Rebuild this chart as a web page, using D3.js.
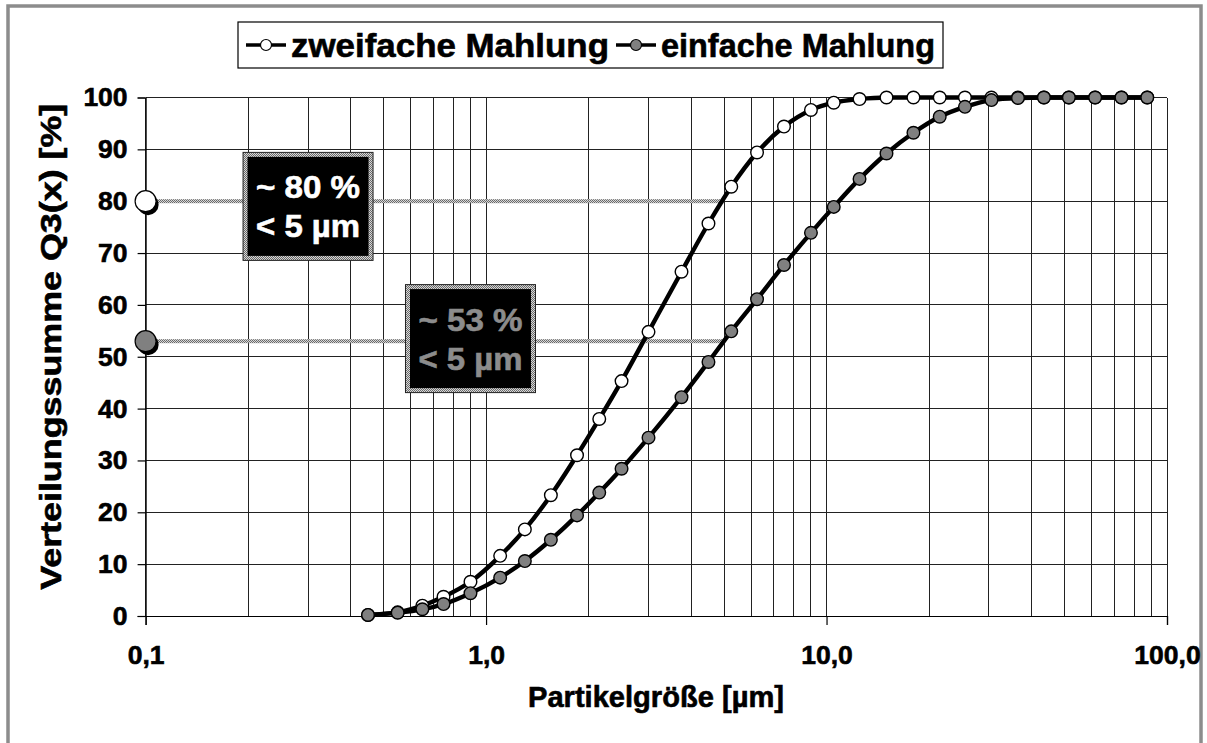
<!DOCTYPE html>
<html>
<head>
<meta charset="utf-8">
<script src="https://cdn.jsdelivr.net/npm/d3@7"></script>
<style>
  html, body { margin: 0; padding: 0; background: #fff; }
  svg { display: block; font-family: "Liberation Sans", Arial, sans-serif; font-weight: bold; }
</style>
</head>
<body>
<svg id="chart" width="1207" height="743"></svg>
<script>
// Particle size classes [µm]
const sizes = [0.45, 0.55, 0.65, 0.75, 0.9, 1.1, 1.3, 1.55, 1.85, 2.15, 2.5, 3.0, 3.75, 4.5, 5.25,
               6.25, 7.5, 9.0, 10.5, 12.5, 15, 18, 21.5, 25.5, 30.5, 36.5, 43.5, 51.5, 61.5, 73.5, 87.5];
// Cumulative distribution Q3(x) [%]
const zweifache = [0.2, 0.7, 2.0, 3.7, 6.6, 11.6, 16.7, 23.3, 31.0, 38.0, 45.3, 54.8, 66.4, 75.7, 82.8,
                   89.4, 94.4, 97.6, 99.0, 99.7, 100, 100, 100, 100, 100, 100, 100, 100, 100, 100, 100];
const einfache  = [0.2, 0.64, 1.3, 2.3, 4.4, 7.4, 10.6, 14.7, 19.4, 23.8, 28.4, 34.4, 42.2, 49.0, 54.9,
                   61.1, 67.7, 73.9, 78.9, 84.3, 89.2, 93.2, 96.3, 98.2, 99.5, 99.9, 100, 100, 100, 100, 100];

const seriesNames = ["zweifache Mahlung", "einfache Mahlung"];
const xTickValues = [0.1, 1, 10, 100];
const xTickLabels = ["0,1", "1,0", "10,0", "100,0"];
const yTickValues = [0, 10, 20, 30, 40, 50, 60, 70, 80, 90, 100];

// Annotations: share below 5 µm
const cutSize = 5;
const shareValues = [80, 53];
const shareLines1 = ["~ 80 %", "~ 53 %"];
const shareLines2 = ["< 5 µm", "< 5 µm"];
const boxCenters = [[0.30, 79], [0.90, 53.5]];

const m = { left: 145.6, right: 1167, top: 97.5, bottom: 616 };

const svg = d3.select("#chart");

// checkered fill for hatched frames and guide lines
const defs = svg.append("defs");
const pat = defs.append("pattern").attr("id", "checker")
  .attr("width", 2).attr("height", 2).attr("patternUnits", "userSpaceOnUse");
pat.append("rect").attr("width", 2).attr("height", 2).attr("fill", "#d8d8d8");
pat.append("rect").attr("width", 1).attr("height", 1).attr("fill", "#6a6a6a");
pat.append("rect").attr("x", 1).attr("y", 1).attr("width", 1).attr("height", 1).attr("fill", "#6a6a6a");

// chart frame
svg.append("rect").attr("x", 8).attr("y", 6).attr("width", 1193).attr("height", 745)
  .attr("fill", "#fff").attr("stroke", "#8c8c8c").attr("stroke-width", 3.5);

const x = d3.scaleLog().domain([0.1, 100]).range([m.left, m.right]);
const y = d3.scaleLinear().domain([0, 100]).range([m.bottom, m.top]);

// gridlines
const minor = [];
for (let d = 0.1; d < 100; d *= 10) for (let k = 1; k <= 10; k++) minor.push(+(d * k).toPrecision(3));
const grid = svg.append("g").attr("stroke", "#222").attr("stroke-width", 1).attr("shape-rendering", "crispEdges");
grid.selectAll("line.v").data(Array.from(new Set(minor))).join("line")
  .attr("x1", d => x(d)).attr("x2", d => x(d)).attr("y1", m.top).attr("y2", m.bottom);
grid.selectAll("line.h").data(yTickValues).join("line")
  .attr("x1", m.left).attr("x2", m.right).attr("y1", d => y(d)).attr("y2", d => y(d));

// bold text, slightly heavier
function heavy(sel, color) {
  return sel.attr("fill", color).attr("stroke", color).attr("stroke-width", 0.6)
    .attr("font-family", "Liberation Sans, Arial, sans-serif").attr("font-weight", "bold");
}

// axes
const yAxis = svg.append("g").attr("transform", `translate(${m.left},0)`)
  .call(d3.axisLeft(y).tickValues(yTickValues).tickSize(8).tickPadding(10).tickFormat(d3.format("d")));
const xAxis = svg.append("g").attr("transform", `translate(0,${m.bottom})`)
  .call(d3.axisBottom(x).tickValues(xTickValues).tickSize(9).tickPadding(20)
    .tickFormat((d, i) => xTickLabels[i]));
[yAxis, xAxis].forEach(g => {
  g.select(".domain").attr("stroke", "#000").attr("stroke-width", 1.2);
  g.selectAll(".tick line").attr("stroke", "#000").attr("stroke-width", 1.2);
  heavy(g.selectAll(".tick text"), "#000").attr("font-size", 26.5);
});

// axis titles
heavy(svg.append("text"), "#000").attr("x", 656).attr("y", 707).attr("text-anchor", "middle")
  .attr("font-size", 29).attr("textLength", 256).attr("lengthAdjust", "spacingAndGlyphs")
  .text("Partikelgröße [µm]");
heavy(svg.append("text"), "#000").attr("transform", `translate(61,${(m.top + m.bottom) / 2 - 10}) rotate(-90)`)
  .attr("text-anchor", "middle").attr("font-size", 29)
  .attr("textLength", 486).attr("lengthAdjust", "spacingAndGlyphs")
  .text("Verteilungssumme Q3(x) [%]");

// guide lines at the 5 µm share
svg.selectAll("rect.guide").data(shareValues).join("rect").attr("class", "guide")
  .attr("x", x(0.1)).attr("width", x(cutSize) - x(0.1))
  .attr("y", d => y(d) - 2).attr("height", 4).attr("fill", "url(#checker)");

// share markers on the y-axis
const markerFills = ["#ffffff", "#808080"];
shareValues.forEach((v, i) => {
  svg.append("circle").attr("cx", x(0.1) + 2.5).attr("cy", y(v) + 3.5).attr("r", 10.5).attr("fill", "#000");
  svg.append("circle").attr("cx", x(0.1)).attr("cy", y(v)).attr("r", 10.5)
    .attr("fill", markerFills[i]).attr("stroke", "#000").attr("stroke-width", 1.2);
});

// annotation boxes
const textFills = ["#ffffff", "#8c8c8c"];
const bw = 130, bh = 108;
boxCenters.forEach((c, i) => {
  const cx = x(c[0]), cy = y(c[1]);
  const g = svg.append("g");
  g.append("rect").attr("x", cx - bw / 2).attr("y", cy - bh / 2).attr("width", bw).attr("height", bh)
    .attr("fill", "url(#checker)").attr("stroke", "#222").attr("stroke-width", 1);
  g.append("rect").attr("x", cx - bw / 2 + 4.5).attr("y", cy - bh / 2 + 4.5)
    .attr("width", bw - 9).attr("height", bh - 9).attr("fill", "#000");
  heavy(g.append("text"), textFills[i]).attr("x", cx).attr("y", cy - 8).attr("text-anchor", "middle")
    .attr("font-size", 31).attr("textLength", 104).attr("lengthAdjust", "spacingAndGlyphs")
    .text(shareLines1[i]);
  heavy(g.append("text"), textFills[i]).attr("x", cx).attr("y", cy + 31).attr("text-anchor", "middle")
    .attr("font-size", 31).attr("textLength", 104).attr("lengthAdjust", "spacingAndGlyphs")
    .text(shareLines2[i]);
});

// curves
const seriesData = [zweifache, einfache];
const line = d3.line().x(d => x(d[0])).y(d => y(d[1])).curve(d3.curveMonotoneX);
seriesData.forEach((vals, i) => {
  const pts = sizes.map((s, j) => [s, vals[j]]);
  svg.append("path").datum(pts).attr("d", line).attr("fill", "none")
    .attr("stroke", "#000").attr("stroke-width", 4.4).attr("stroke-linejoin", "round");
  svg.append("g").selectAll("circle").data(pts).join("circle")
    .attr("cx", d => x(d[0])).attr("cy", d => y(d[1])).attr("r", 6.3)
    .attr("fill", markerFills[i]).attr("stroke", "#000").attr("stroke-width", 1.4);
});

// legend
const lg = svg.append("g");
lg.append("rect").attr("x", 238).attr("y", 22).attr("width", 705).attr("height", 46)
  .attr("fill", "#fff").attr("stroke", "#000").attr("stroke-width", 1.2);
const legendX = [246, 616];
const legendW = [318, 274];
seriesNames.forEach((name, i) => {
  const lx = legendX[i], ly = 45;
  lg.append("line").attr("x1", lx).attr("x2", lx + 40).attr("y1", ly).attr("y2", ly)
    .attr("stroke", "#000").attr("stroke-width", 3.5);
  lg.append("circle").attr("cx", lx + 20).attr("cy", ly).attr("r", 5.5)
    .attr("fill", markerFills[i]).attr("stroke", "#000").attr("stroke-width", 1.2);
  heavy(lg.append("text"), "#000").attr("x", lx + 45).attr("y", ly + 12).attr("font-size", 33)
    .attr("textLength", legendW[i]).attr("lengthAdjust", "spacingAndGlyphs").text(name);
});
</script>
</body>
</html>
